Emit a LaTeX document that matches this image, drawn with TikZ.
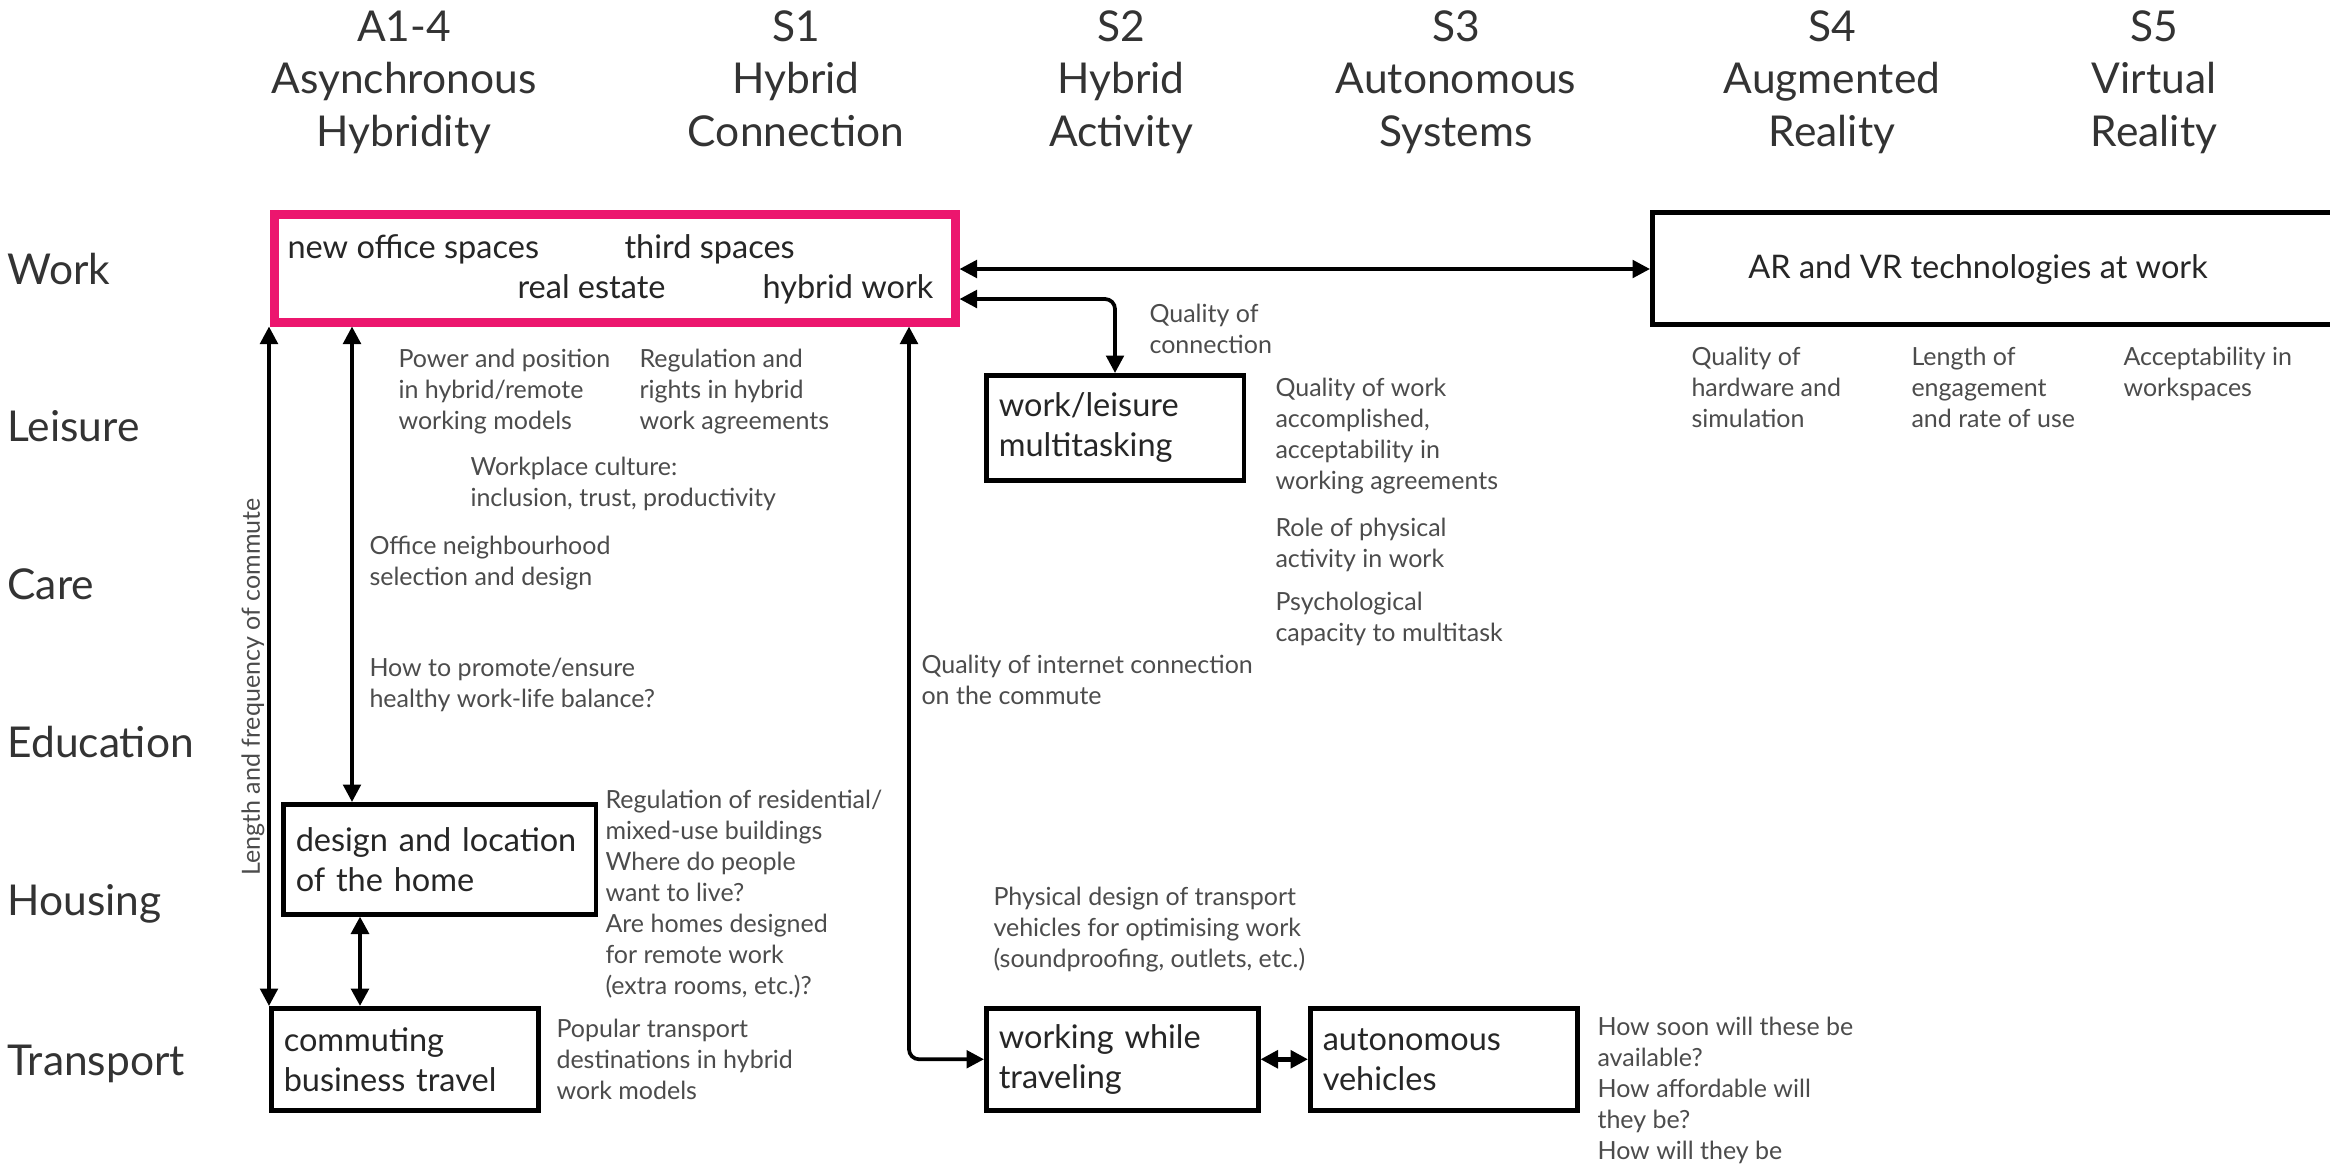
\documentclass[tikz,border=0pt]{standalone}
\usepackage{fontspec}
\setmainfont{Lato}
\usetikzlibrary{arrows.meta}
\usepackage{xcolor}
\definecolor{hotpink}{RGB}{236,22,110}

\begin{document}
\begin{tikzpicture}[x=0.4pt, y=-0.4pt,
	topic/.style={draw, line width=1.8pt, align=left, anchor=north west, inner xsep=5pt, inner ysep=0pt, font=\fontsize{13}{16}\selectfont, text=black!85},
	note/.style={anchor=north west, align=left, inner sep=0pt, font=\fontsize{10}{12.4}\selectfont, text=black!70},
	rowlab/.style={anchor=base west, inner sep=0pt, font=\fontsize{17}{20}\selectfont, text=black!80},
	colhead/.style={align=center, inner sep=0pt, font=\fontsize{17}{21}\selectfont, text=black!80},
	link/.style={line width=1.5pt, {Triangle[length=7pt,width=7pt]}-{Triangle[length=7pt,width=7pt]}}]
			\fill[white] (0,0) rectangle (2330,1168);
			\useasboundingbox (0,0) rectangle (2330,1168);
			
			% 表头
			\node[colhead] (hA) at (404,83) {\strut A1-4\\Asynchronous\\Hybridity\strut};
			\node[colhead] (hS1) at (796,83) {\strut S1\\Hybrid\\Connection\strut};
			\node[colhead] (hS2) at (1121,83) {\strut S2\\Hybrid\\Activity\strut};
			\node[colhead] (hS3) at (1456,83) {\strut S3\\Autonomous\\Systems\strut};
			\node[colhead] (hS4) at (1832,83) {\strut S4\\Augmented\\Reality\strut};
			\node[colhead] (hS5) at (2154,83) {\strut S5\\Virtual\\Reality\strut};
			
			% 行标签
			\node[rowlab] (rWork) at (7,284) {Work};
			\node[rowlab] (rLeisure) at (7,441) {Leisure};
			\node[rowlab] (rCare) at (7,599) {Care};
			\node[rowlab] (rEducation) at (7,757) {Education};
			\node[rowlab] (rHousing) at (7,915) {Housing};
			\node[rowlab] (rTransport) at (7,1075) {Transport};
			
			% 方框
			\node[draw=hotpink, line width=3.4pt, anchor=north west, inner sep=0pt, minimum width=272.4pt, minimum height=43.2pt] (work) at (270,210) {};
			\begin{scope}[every node/.style={anchor=base west, inner sep=0pt, font=\fontsize{13}{16}\selectfont, text=black!85}]
				\node (newoffice) at (287,258) {new office spaces};
				\node (third) at (624,258) {third spaces};
				\node (realestate) at (517,298) {real estate};
				\node (hybridwork) at (762,298) {hybrid work};
			\end{scope}
			\node[topic, minimum width=278pt, minimum height=44.8pt, inner sep=0pt] (arvr) at (1650,210) {};
			\node[font=\fontsize{13}{16}\selectfont, text=black!85] (arvrtext) at (1978,269) {AR and VR technologies at work};
			\node[topic, text width=93pt, minimum height=42pt] (worklei) at (984,373) {work/leisure\\multitasking};
			\node[topic, text width=115pt, minimum height=44pt] (home) at (281,802) {design and location\\of the home};
			\node[topic, text width=96.8pt, minimum height=40.8pt] (commute) at (269,1006) {commuting\\business travel};
			\node[topic, text width=98.8pt, minimum height=40.8pt] (travel) at (984,1006) {working while\\traveling};
			\node[topic, text width=96.8pt, minimum height=40.8pt] (auto) at (1308,1006) {autonomous\\vehicles};
			
			% 箭头
			\coordinate (ax) at (352,0);
			\coordinate (bx) at (360,0);
			\coordinate (cx) at (909,0);
			\coordinate (ry) at (0,269);
			\coordinate (qy) at (0,299);
			\draw[link] (commute.north west) -- (commute.north west |- work.south);
			\draw[link] (ax |- work.south) -- (ax |- home.north);
			\draw[link, line width=1.9pt] (bx |- home.south) -- (bx |- commute.north);
			\draw[link, rounded corners=4pt] (cx |- work.south) |- (travel.west);
			\draw[link] (work.east |- ry) -- (arvr.west |- ry);
			\draw[link, rounded corners=4pt] (work.east |- qy) -| (worklei.north);
			\draw[link, line width=1.9pt] (travel.east) -- (auto.west);
			
			% 注释
			\node[note, anchor=center, rotate=90] (commutelab) at (253,687) {Length and frequency of commute};
			\node[note] (power) at (398,349) {Power and position\\in hybrid/remote\\working models};
			\node[note] (rights) at (639,349) {Regulation and\\rights in hybrid\\work agreements};
			\node[note] (culture) at (470,457) {Workplace culture:\\inclusion, trust, productivity};
			\node[note] (neighbour) at (369,536) {Office neighbourhood\\selection and design};
			\node[note] (balance) at (369,658) {How to promote/ensure\\healthy work-life balance?};
			\node[note] (residential) at (605,790) {Regulation of residential/\\mixed-use buildings\\Where do people\\want to live?\\Are homes designed\\for remote work\\(extra rooms, etc.)?};
			\node[note] (popular) at (556,1019) {Popular transport\\destinations in hybrid\\work models};
			\node[note] (internet) at (921,655) {Quality of internet connection\\on the commute};
			\node[note] (qualconn) at (1149,304) {Quality of\\connection};
			\node[note] (qualwork) at (1275,378) {Quality of work\\accomplished,\\acceptability in\\working agreements};
			\node[note] (physical) at (1275,518) {Role of physical\\activity in work};
			\node[note] (psych) at (1275,592) {Psychological\\capacity to multitask};
			\node[note] (vehdesign) at (993,887) {Physical design of transport\\vehicles for optimising work\\(soundproofing, outlets, etc.)};
			\node[note] (howsoon) at (1597,1017) {How soon will these be\\available?\\How affordable will\\they be?\\How will they be};
			\node[note] (hardware) at (1691,347) {Quality of\\hardware and\\simulation};
			\node[note] (engage) at (1911,347) {Length of\\engagement\\and rate of use};
			\node[note] (accept) at (2123,347) {Acceptability in\\workspaces};
		\end{tikzpicture}
\end{document}
